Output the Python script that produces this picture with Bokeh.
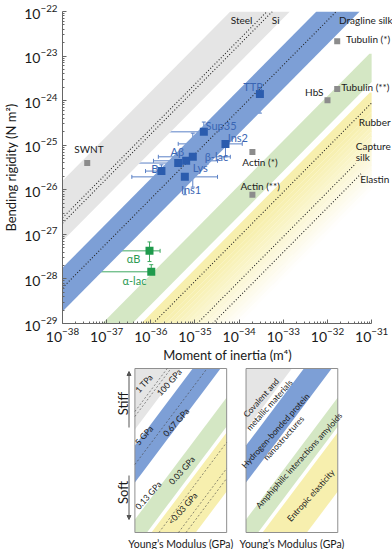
import math
from bokeh.plotting import figure
from bokeh.models import (Range1d, FixedTicker, Whisker, TeeHead, Arrow, NormalHead,
                          ColumnDataSource)
from bokeh.layouts import column
from bokeh.embed import file_html
from bokeh.resources import INLINE
from bokeh.core.properties import value

FONT = "Lato"

# ---------------- data (log10 units) ----------------
# material classes: log10 Young's modulus (Pa)
band_logE_low = [10.85, 9.27, 7.42, 5.0]
band_logE_high = [12.2, 10.25, 8.1, 7.22]
band_logB_top = [-22.0, -22.0, -22.95, -23.82]
band_colors = ["#e5e5e5", "#7d9fd6", "#d4e7c4", "#f7efae"]

ref_names = ["Steel", "Si", "Dragline silk", "Rubber", "Capture silk", "Elastin"]
ref_logE = [11.37, 11.25, 9.8, 6.95, 5.95, 5.6]
ref_logI_end = [-31.0, -31.0, -31.0, -31.0, -31.36, -31.24]

gray_names = ["SWNT", "Tubulin (*)", "Tubulin (**)", "HbS", "Actin (*)", "Actin (**)"]
gray_logI = [-37.44, -31.78, -31.78, -32.0, -33.70, -33.70]
gray_logB = [-25.40, -22.67, -23.74, -23.99, -25.15, -26.11]

blue_names = ["TTR", "Sup35", "Ins2", "Aβ", "Lys", "β-lac", "B", "Ins1"]
blue_logI = [-33.53, -34.80, -34.31, -35.38, -35.20, -35.05, -35.76, -35.23]
blue_logB = [-23.85, -24.70, -24.97, -25.40, -25.35, -25.26, -25.58, -25.71]
blue_I_lo = [-34.0, -35.74, -35.38, -36.39, -35.94, -35.83, -36.12, -36.43]
blue_I_hi = [-33.30, -34.49, -33.93, -34.71, -34.49, -34.20, -35.56, -34.49]
blue_B_lo = [-24.28, -25.26, -25.26, -25.94, -25.67, -25.94, -25.73, -26.11]
blue_B_hi = [-23.59, -24.48, -24.70, -25.17, -25.11, -24.73, -25.44, -25.11]

green_names = ["αB", "α-lac"]
green_logI = [-36.03, -35.99]
green_logB = [-27.37, -27.84]
green_I_lo = [-36.90, -37.17]
green_I_hi = [-35.79, -35.67]
green_B_lo = [-27.61, -28.19]
green_B_hi = [-27.17, -27.68]

# text labels
dark_text = ["SWNT", "Steel", "Si", "Dragline silk", "Tubulin (*)", "Tubulin (**)", "HbS",
             "Rubber", "Capture", "silk", "Elastin", "Actin (*)", "Actin (**)"]
dark_tI = [-37.40, -33.70, -33.26, -31.74, -31.58, -31.69, -32.09,
           -31.29, -31.36, -31.36, -31.26, -33.93, -33.97]
dark_tB = [-25.09, -22.20, -22.20, -22.20, -22.62, -23.70, -23.81,
           -24.48, -25.02, -25.26, -25.76, -25.38, -25.91]
dark_align = ["center", "right", "left", "left", "left", "left", "right",
              "left", "left", "left", "left", "left", "left"]

blue_text = ["TTR", "Sup35", "Ins2", "Aβ", "β-lac", "Lys", "B", "Ins1"]
blue_tI = [-33.68, -34.76, -34.26, -35.40, -34.78, -35.05, -35.83, -35.09]
blue_tB = [-23.68, -24.55, -24.82, -25.15, -25.26, -25.51, -25.53, -26.00]
blue_align = ["center", "left", "left", "center", "left", "left", "right", "center"]

green_text = ["αB", "α-lac"]
green_tI = [-36.39, -36.37]
green_tB = [-27.55, -28.04]

x_ticks = [-38, -37, -36, -35, -34, -33, -32, -31]
y_ticks = [-29, -28, -27, -26, -25, -24, -23, -22]

# schematic boxes (offsets of band edges, px, slope SLOPE)
box_c_low = [103, 50, -16, -81]
box_c_high = [400, 87, 13, -22]
box_left_lines = [121, 116, 68, -32, -58, -68]
left_box_text = ["1 TPa", "100 GPa", "5 GPa", "0.67 GPa", "0.13 GPa", "0.03 GPa", "<0.03 GPa"]
left_box_tx = [11, 41, 11, 49, 16, 56, 57]
left_box_ty = [149, 150, 97, 110, 37, 62, 24]
right_box_text = ["Covalent and\nmetallic materials", "Hydrogen-bonded protein\nnanostructures",
                  "Amphiphilic interactions amyloids", "Entropic elasticity"]
right_box_tx = [23, 40, 63, 77]
right_box_ty = [131, 98, 72, 37]

# ---------------- helpers ----------------
def clip_half(poly, a, b, c):
    """keep a*x + b*y <= c"""
    out = []
    n = len(poly)
    for i in range(n):
        p1 = poly[i]
        p2 = poly[(i + 1) % n]
        f1 = a * p1[0] + b * p1[1] - c
        f2 = a * p2[0] + b * p2[1] - c
        if f1 <= 0:
            out.append(p1)
        if (f1 < 0 < f2) or (f2 < 0 < f1):
            t = f1 / (f1 - f2)
            out.append((p1[0] + t * (p2[0] - p1[0]), p1[1] + t * (p2[1] - p1[1])))
    return out


def band_poly(x0, x1, y0, y1, slope, c_lo, c_hi):
    poly = [(x0, y0), (x1, y0), (x1, y1), (x0, y1)]
    poly = clip_half(poly, slope, -1, -c_lo)   # y - s x >= c_lo
    poly = clip_half(poly, -slope, 1, c_hi)    # y - s x <= c_hi
    return poly


def p10(v):
    return [10 ** x for x in v]

# ---------------- main plot ----------------
DEC = 44.7
x_end = -38 + 334 / DEC
p = figure(width=392, height=365, x_axis_type="log", y_axis_type="log",
           x_range=Range1d(1e-38, 10 ** x_end), y_range=Range1d(1e-29, 1e-22),
           output_backend="svg", toolbar_location=None,
           min_border_left=58, min_border_right=0, min_border_top=11, min_border_bottom=41)
p.outline_line_color = None
p.grid.visible = False
p.background_fill_color = "white"

# bands
for k in range(len(band_logE_low)):
    lo, hi = band_logE_low[k], band_logE_high[k]
    if k == 3:
        # entropic band fades out towards low modulus
        solid_lo = 6.75
        poly = band_poly(-38, -31, -29, band_logB_top[k], 1.0, solid_lo, hi)
        p.patch([10 ** a for a, b in poly], [10 ** b for a, b in poly],
                fill_color=band_colors[k], line_color=None)
        n = 16
        step = (solid_lo - lo) / n
        for j in range(n):
            e_hi = solid_lo - j * step
            e_lo = e_hi - step
            poly = band_poly(-38, -31, -29, band_logB_top[k], 1.0, e_lo, e_hi)
            if len(poly) < 3:
                continue
            p.patch([10 ** a for a, b in poly], [10 ** b for a, b in poly],
                    fill_color=band_colors[k], fill_alpha=1 - (j + 0.5) / n, line_color=None)
    else:
        poly = band_poly(-38, -31, -29, band_logB_top[k], 1.0, lo, hi)
        p.patch([10 ** a for a, b in poly], [10 ** b for a, b in poly],
                fill_color=band_colors[k], line_color=None)

# reference material lines
for e, iend in zip(ref_logE, ref_logI_end):
    i0 = max(-38, -29 - e)
    i1 = min(iend, -22 - e)
    p.line([10 ** i0, 10 ** i1], [10 ** (i0 + e), 10 ** (i1 + e)],
           line_color="#222222", line_dash="1 2", line_width=1.1)

# gray points
p.scatter(p10(gray_logI), p10(gray_logB), marker="square", size=6,
          fill_color="#8c8c8c", line_color=None)

# error bars
def add_errors(xs, ys, xlo, xhi, ylo, yhi, color):
    src = ColumnDataSource(dict(x=p10(xs), y=p10(ys), xlo=p10(xlo), xhi=p10(xhi),
                                ylo=p10(ylo), yhi=p10(yhi)))
    for dim, base, lo, hi in (("width", "y", "xlo", "xhi"), ("height", "x", "ylo", "yhi")):
        w = Whisker(source=src, base=base, lower=lo, upper=hi, dimension=dim,
                    line_color=color, line_width=1,
                    upper_head=TeeHead(size=4, line_color=color, line_width=1),
                    lower_head=TeeHead(size=4, line_color=color, line_width=1))
        p.add_layout(w)

add_errors(blue_logI, blue_logB, blue_I_lo, blue_I_hi, blue_B_lo, blue_B_hi, "#5a80c6")
add_errors(green_logI, green_logB, green_I_lo, green_I_hi, green_B_lo, green_B_hi, "#3fa862")

p.scatter(p10(blue_logI), p10(blue_logB), marker="square", size=8,
          fill_color="#2b5cae", line_color=None)
p.scatter(p10(green_logI), p10(green_logB), marker="square", size=8,
          fill_color="#1f9a4c", line_color=None)

# labels
p.text(p10(dark_tI), p10(dark_tB), text=dark_text, text_align=dark_align, text_baseline="middle",
       text_font=value(FONT), text_font_size="10px", text_color="#1a1a1a")
p.text(p10(blue_tI), p10(blue_tB), text=blue_text, text_align=blue_align, text_baseline="middle",
       text_font=value(FONT), text_font_size="11px", text_color="#3a66b4")
p.text(p10(green_tI), p10(green_tB), text=green_text, text_align="center", text_baseline="middle",
       text_font=value(FONT), text_font_size="11px", text_color="#2b9a52")

# axes
minor_x = [m * 10 ** k for k in range(-38, -31) for m in range(2, 10)]
minor_y = [m * 10 ** k for k in range(-29, -22) for m in range(2, 10)]
p.xaxis.ticker = FixedTicker(ticks=p10(x_ticks), minor_ticks=minor_x)
p.yaxis.ticker = FixedTicker(ticks=p10(y_ticks), minor_ticks=minor_y)
p.xaxis.bounds = (1e-38, 1e-31)
for ax in (p.xaxis, p.yaxis):
    ax.axis_line_color = "#666666"
    ax.major_tick_line_color = "#666666"
    ax.minor_tick_line_color = "#666666"
    ax.major_tick_in = 4
    ax.major_tick_out = 0
    ax.minor_tick_in = 2
    ax.minor_tick_out = 0
    ax.major_label_text_font = FONT
    ax.major_label_text_font_size = "14px"
    ax.major_label_text_color = "#1a1a1a"
    ax.axis_label_text_font = FONT
    ax.axis_label_text_font_size = "13px"
    ax.axis_label_text_font_style = "normal"
    ax.axis_label_text_color = "#1a1a1a"
p.xaxis.axis_label = "Moment of inertia (m⁴)"
p.yaxis.axis_label = "Bending rigidity (N m²)"
p.xaxis.major_label_standoff = 4
p.yaxis.major_label_standoff = 5
p.xaxis.axis_label_standoff = 2
p.yaxis.axis_label_standoff = 2

# ---------------- schematic panels ----------------
q = figure(width=392, height=184, x_range=Range1d(0, 392), y_range=Range1d(0, 184),
           output_backend="svg", toolbar_location=None, min_border=0)
q.outline_line_color = None
q.axis.visible = False
q.grid.visible = False

SLOPE = 1.12
BW, BH, BY = 109, 164, 17
for bx in (86, 218):
    for k in range(4):
        poly = band_poly(0, BW, 0, BH, SLOPE, box_c_low[k], box_c_high[k])
        q.patch([bx + a for a, b in poly], [BY + b for a, b in poly],
                fill_color=band_colors[k], line_color=None)
    q.quad(left=bx, right=bx + BW, bottom=BY, top=BY + BH, fill_color=None,
           line_color="#8f8f8f", line_width=1)
    q.text([bx + BW / 2], [6], text=["Young’s Modulus (GPa)"], text_align="center",
           text_baseline="middle", text_font=value(FONT), text_font_size="10.5px",
           text_color="#1a1a1a")

# dashed modulus lines in left box
for c in box_left_lines:
    u0 = max(0, -c / SLOPE)
    u1 = min(BW, (BH - c) / SLOPE)
    q.line([86 + u0, 86 + u1], [BY + SLOPE * u0 + c, BY + SLOPE * u1 + c],
           line_color="#444444", line_dash="2 2", line_width=0.6)

ang = math.atan(SLOPE)
q.text([86 + x for x in left_box_tx], [BY + y for y in left_box_ty], text=left_box_text,
       angle=ang, text_align="center", text_baseline="middle", text_font=value(FONT),
       text_font_size="8.5px", text_color="#1a1a1a")
q.text([218 + x for x in right_box_tx], [BY + y for y in right_box_ty], text=right_box_text,
       angle=ang, text_align="center", text_baseline="middle", text_font=value(FONT),
       text_font_size="8.5px", text_color="#1a1a1a", text_line_height=1.1)

# stiff / soft
q.text([72, 72], [146, 57], text=["Stiff", "Soft"], angle=math.pi / 2, text_align="center",
       text_baseline="middle", text_font=value(FONT), text_font_size="13px", text_color="#1a1a1a")
q.add_layout(Arrow(x_start=79, y_start=122, x_end=79, y_end=178, line_color="#555555",
                   line_width=1, end=NormalHead(size=4, fill_color="#555555", line_color="#555555")))
q.add_layout(Arrow(x_start=79, y_start=74, x_end=79, y_end=30, line_color="#555555",
                   line_width=1, end=NormalHead(size=4, fill_color="#555555", line_color="#555555")))

layout = column(p, q, spacing=0)
open("out.html", "w").write(file_html(layout, INLINE))
